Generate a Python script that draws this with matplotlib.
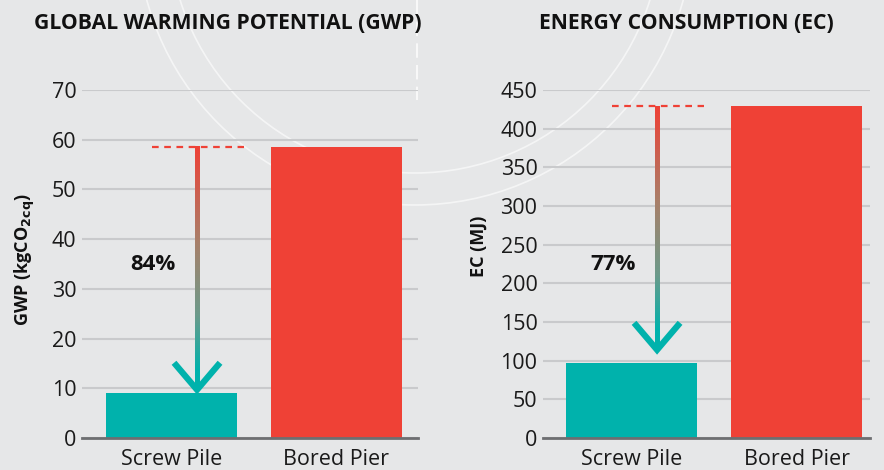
''' Screw pile vs bored pier: GWP and energy consumption '''

import numpy as np
import matplotlib
matplotlib.use('Agg')
import matplotlib.pyplot as plt
import matplotlib.colors as colors
from matplotlib.patches import Circle
from matplotlib.transforms import IdentityTransform

plt.rcParams['font.family'] = ['Open Sans', 'DejaVu Sans']

categories = ['Screw Pile', 'Bored Pier']
gwp_values = [9.1, 58.6]
ec_values = [97, 429]
gwp_ticks = [0, 10, 20, 30, 40, 50, 60, 70]
ec_ticks = [0, 50, 100, 150, 200, 250, 300, 350, 400, 450]
gwp_arrow_end = 9.7
ec_arrow_end = 114
gwp_pct = '84%'
ec_pct = '77%'
gwp_pct_y = 34.8
ec_pct_y = 224

BG = '#e6e7e8'
TEAL = '#00b2ac'
RED = '#ef4136'
GRID = '#c9cacc'
W, H = 884, 470

fig = plt.figure(figsize=(W / 100, H / 100), dpi=100, facecolor=BG)

# background decoration: faint white arcs and dashed divider
bg = fig.add_axes([0, 0, 1, 1], zorder=-1)
bg.set_xlim(0, W)
bg.set_ylim(H, 0)
bg.axis('off')
for r in (246, 278):
    bg.add_patch(Circle((415, -73), r, fill=False, ec='white', lw=1.2, alpha=0.6))
bg.plot([417, 417], [0, 100], color='white', lw=1.3, ls=(0, (8, 4)), alpha=0.8)

shaft_cmap = colors.LinearSegmentedColormap.from_list(
    'shaft', [(0, RED), (0.4, '#a8806a'), (0.7, '#6c9a8a'), (0.93, TEAL), (1, TEAL)])


def draw_panel(rect, values, ticks, title, ylabel, arrow_end, pct, pct_y, xlim,
               label_pos, title_x):
    ax = fig.add_axes(rect)
    ax.set_facecolor('none')
    x = np.arange(len(categories))
    ax.bar(x, values, width=0.794, color=[TEAL, RED], zorder=3)
    ax.set_yticks(ticks)
    ax.set_xticks(x)
    ax.set_xticklabels(categories)
    ax.tick_params(length=0, labelsize=15.5, colors='#1a1a1a')
    ax.tick_params(axis='y', pad=4)
    ax.tick_params(axis='x', pad=8)
    ax.yaxis.grid(True, color=GRID, lw=1.5, zorder=0)
    ax.set_axisbelow(True)
    for s in ['top', 'right', 'left']:
        ax.spines[s].set_visible(False)
    ax.spines['bottom'].set_color('#6d6e71')
    ax.spines['bottom'].set_linewidth(2)
    ax.spines['bottom'].set_zorder(4)
    ax.set_title(title, fontsize=15.2, fontweight='bold', pad=44, color='#111111',
                 x=title_x)
    ax.set_ylabel(ylabel, fontsize=13, fontweight='bold', color='#111111')
    ax.yaxis.set_label_coords(*label_pos)

    # dashed reference line at the bored pier level
    ax_x = 0.155
    ax.plot([-0.12, 0.44], [values[1], values[1]], color=RED, lw=1.6,
            ls=(0, (3, 2.5)), zorder=5)

    # gradient shaft from red to teal
    ax.set_xlim(*xlim)
    ax.set_ylim(0, ticks[-1])
    fig.canvas.draw()
    tip = ax.transData.transform((ax_x, arrow_end))
    px_per_x = ax.transData.transform((1, 0))[0] - ax.transData.transform((0, 0))[0]
    px_per_y = ax.transData.transform((0, 1))[1] - ax.transData.transform((0, 0))[1]
    half_w = 2.4 / px_per_x
    grad = shaft_cmap(np.linspace(0, 1, 256))[:, None, :]
    ax.imshow(grad, extent=[ax_x - half_w, ax_x + half_w, arrow_end + 3 / px_per_y, values[1]],
              aspect='auto', origin='upper', interpolation='bilinear', zorder=6)
    ax.set_xlim(*xlim)
    ax.set_ylim(0, ticks[-1])
    # chevron head
    ax.plot([tip[0] - 23, tip[0], tip[0] + 23], [tip[1] + 27, tip[1], tip[1] + 27],
            color=TEAL, lw=4.5, solid_capstyle='butt', solid_joinstyle='miter',
            transform=IdentityTransform(), zorder=7)

    ax.text(-0.11, pct_y, pct, fontsize=16, fontweight='bold', color='#111111',
            ha='center', va='center', zorder=6)
    return ax


draw_panel([82 / W, 32 / H, 336 / W, 348 / H], gwp_values, gwp_ticks,
           'GLOBAL WARMING POTENTIAL (GWP)', r'GWP (kgCO$_{\mathbf{2cq}}$)',
           gwp_arrow_end, gwp_pct, gwp_pct_y, (-0.542, 1.494), (-0.135, 0.514), 0.435)
draw_panel([543 / W, 32 / H, 327 / W, 348 / H], ec_values, ec_ticks,
           'ENERGY CONSUMPTION (EC)', 'EC (MJ)',
           ec_arrow_end, ec_pct, ec_pct_y, (-0.536, 1.445), (-0.17, 0.55), 0.437)

fig.savefig('out.png', dpi=100, facecolor=BG)
